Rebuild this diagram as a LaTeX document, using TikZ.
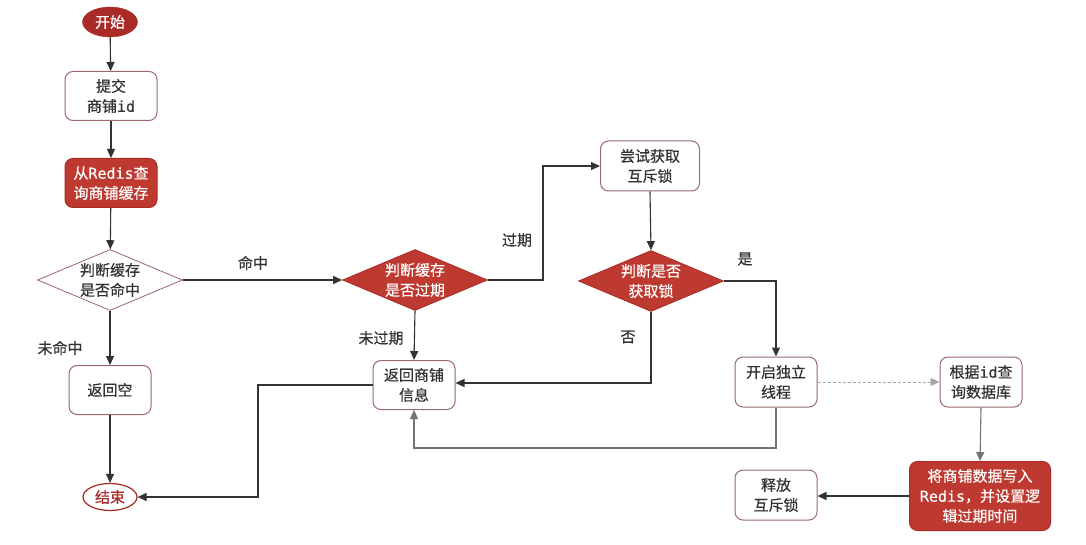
\documentclass[tikz,border=0pt]{standalone}
\usepackage{fontspec}
\setmainfont{Noto Sans CJK SC}[FakeBold=0.4]
\newfontfamily\lat{DejaVu Sans Mono}[FakeBold=0.3]
\usetikzlibrary{arrows.meta,shapes.geometric}
\definecolor{dred}{HTML}{A92A26}
\definecolor{fred}{HTML}{BE3A30}
\definecolor{bordr}{HTML}{9A6A6A}
\definecolor{txt}{HTML}{333333}
\begin{document}
\begin{tikzpicture}[x=1pt,y=-1pt,
  font=\fontsize{15}{20}\selectfont,
  every node/.style={text=txt},
  wbox/.style={draw=bordr,line width=1pt,rounded corners=8pt,fill=white,minimum width=82pt,minimum height=49pt,align=center,inner sep=2pt},
  rbox/.style={draw=dred,line width=1pt,rounded corners=8pt,fill=fred,text=white,minimum width=92pt,minimum height=49pt,align=center,inner sep=2pt},
  wdia/.style={diamond,aspect=2.4,draw=bordr,line width=0.8pt,fill=white,align=center,inner sep=0pt,minimum width=145pt,minimum height=61pt},
  rdia/.style={diamond,aspect=2.4,draw=dred,line width=0.8pt,fill=fred,text=white,align=center,inner sep=0pt,minimum width=145pt,minimum height=61pt},
  conn/.style={draw=black!80,line width=1.1pt,-{Triangle[width=8pt,length=9pt]}},
  gconn/.style={draw=black!55,line width=1.1pt,-{Triangle[width=8pt,length=9pt]}},
  lbl/.style={text=txt}]
\useasboundingbox (0,0) rectangle (1086,545);
\fill[white] (0,0) rectangle (1086,545);

\node[ellipse,fill=dred,draw=dred,text=white,minimum width=55pt,minimum height=30pt,inner sep=0pt] (start) at (110,22) {开始};
\node[wbox,minimum width=92pt] (submit) at (111,96) {提交\\商铺{\lat id}};
\node[rbox] (query) at (111,183) {从{\lat Redis}查\\询商铺缓存};
\node[wdia] (hit) at (110,280) {判断缓存\\是否命中};
\node[wbox] (retnull) at (110,390) {返回空};
\node[ellipse,fill=white,draw=dred,line width=1.2pt,text=dred,minimum width=54pt,minimum height=27pt,inner sep=0pt] (end) at (110,497) {结束};

\node[rdia] (expire) at (415,280) {判断缓存\\是否过期};
\node[wbox] (retshop) at (414,385) {返回商铺\\信息};
\node[wbox,minimum width=99pt,minimum height=50pt] (trylock) at (650,166) {尝试获取\\互斥锁};
\node[rdia] (getlock) at (651,281) {判断是否\\获取锁};
\node[wbox,minimum height=50pt] (thread) at (776,382) {开启独立\\线程};
\node[wbox,minimum height=50pt] (querydb) at (981,382) {根据{\lat id}查\\询数据库};
\node[rbox,minimum width=141pt,minimum height=69pt] (write) at (980,496) {将商铺数据写入\\{\lat Redis}，并设置逻\\辑过期时间};
\node[wbox,minimum height=50pt] (release) at (776,495) {释放\\互斥锁};

\coordinate (c1) at (543,280);
\coordinate (c2) at (543,166);
\coordinate (c3) at (651,383);
\coordinate (c4) at (776,281);
\coordinate (c5) at (776,448);
\coordinate (c6) at (414,448);
\coordinate (c7) at (258,385);
\coordinate (c8) at (258,497);

\draw[conn] (start) -- (submit);
\draw[conn] (submit) -- (query);
\draw[conn] (query) -- (hit);
\draw[conn] (hit) -- (retnull);
\draw[conn] (retnull) -- (end);
\draw[conn] (hit.east) -- (expire.west);
\draw[conn] (expire.east) -- (c1) -- (c2) -- (trylock.west);
\draw[conn] (expire.south) -- (retshop.north);
\draw[conn] (trylock.south) -- (getlock.north);
\draw[conn] (getlock.south) -- (c3) -- (retshop.east |- c3);
\draw[conn] (getlock.east) -- (c4) -- (thread.north);
\draw[gconn] (thread.south) -- (c5) -- (c6) -- (retshop.south);
\draw[conn] (retshop.west |- c7) -- (c7) -- (c8) -- (end.east);
\draw[gconn,densely dashed,draw=black!35,line width=1pt] (thread.east) -- (querydb.west);
\draw[gconn] (querydb.south) -- (write.north);
\draw[conn] (write.west) -- (release.east |- write.west);

\node[lbl] (l1) at (253,263) {命中};
\node[lbl] (l2) at (517,240) {过期};
\node[lbl] (l3) at (381,338) {未过期};
\node[lbl] (l4) at (60,348) {未命中};
\node[lbl] (l5) at (745,259) {是};
\node[lbl] (l6) at (628,337) {否};
\end{tikzpicture}
\end{document}
